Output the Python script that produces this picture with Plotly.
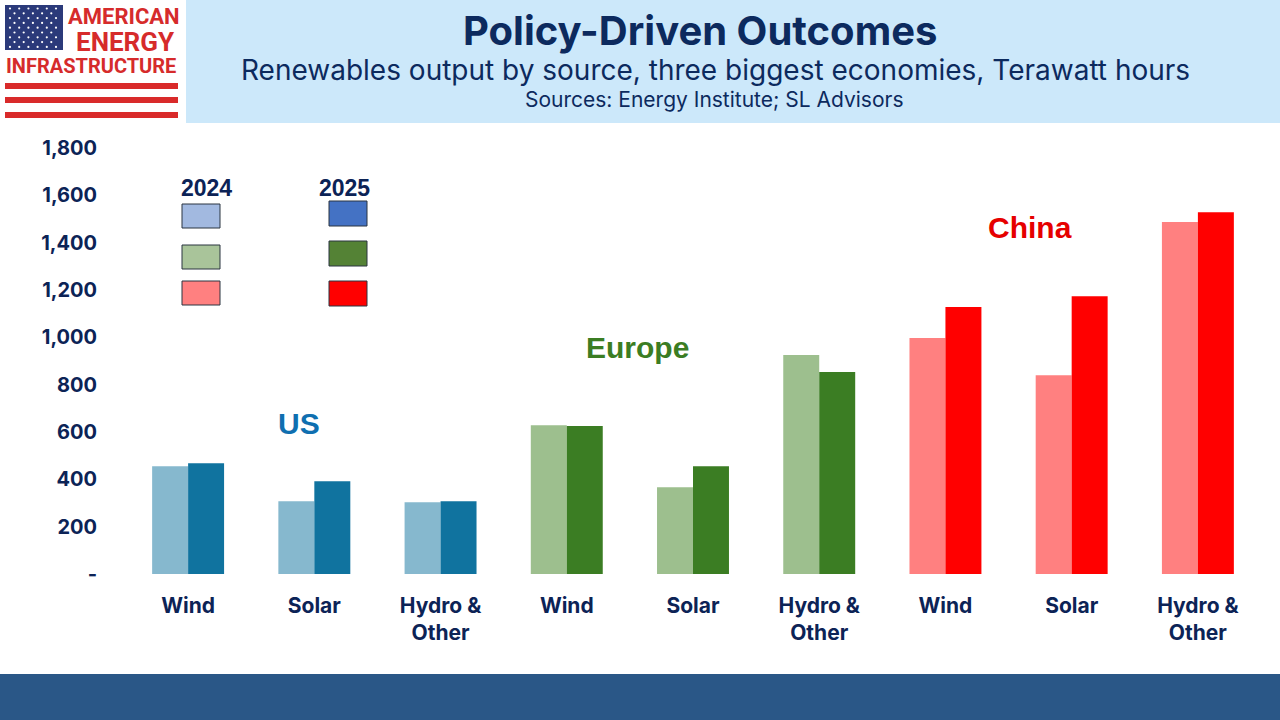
import plotly.graph_objects as go

# ---- data ----
regions = ["US", "US", "US", "Europe", "Europe", "Europe", "China", "China", "China"]
sources = ["Wind", "Solar", "Hydro &<br>Other", "Wind", "Solar", "Hydro &<br>Other",
           "Wind", "Solar", "Hydro &<br>Other"]
twh_2024 = [455, 307, 303, 629, 367, 925, 997, 840, 1487]
twh_2025 = [468, 392, 307, 625, 455, 853, 1128, 1174, 1529]
colors_2024 = ["#86B8CE"] * 3 + ["#9DBF8E"] * 3 + ["#FF8080"] * 3
colors_2025 = ["#10739F"] * 3 + ["#3B7D23"] * 3 + ["#FF0000"] * 3
y_ticks = [0, 200, 400, 600, 800, 1000, 1200, 1400, 1600, 1800]
y_ticktext = ["-", "200", "400", "600", "800", "1,000", "1,200", "1,400", "1,600", "1,800"]

# ---- layout geometry (pixels) ----
W, H = 1280, 720
L, R, T, B = 125, 1261, 148, 574
PW, PH = R - L, B - T


def X(px):
    return (px - L) / PW


def Y(py):
    return (B - py) / PH


NAVY = "#0C2356"
xs = list(range(len(sources)))

fig = go.Figure()
fig.add_trace(go.Bar(x=xs, y=twh_2024, name="2024", marker=dict(color=colors_2024, line_width=0)))
fig.add_trace(go.Bar(x=xs, y=twh_2025, name="2025", marker=dict(color=colors_2025, line_width=0)))

shapes = []
annotations = []

# header band
shapes.append(dict(type="rect", xref="paper", yref="paper", x0=X(186), x1=X(1280), y0=Y(123), y1=Y(0),
                   fillcolor="#CCE8FA", line_width=0, layer="below"))
# footer band
shapes.append(dict(type="rect", xref="paper", yref="paper", x0=X(0), x1=X(1280), y0=Y(720), y1=Y(674),
                   fillcolor="#2A5787", line_width=0, layer="below"))

# logo: canton
shapes.append(dict(type="rect", xref="paper", yref="paper", x0=X(5), x1=X(63), y0=Y(50), y1=Y(5),
                   fillcolor="#2B3A7A", line_width=0))
for r in range(9):
    n = 6 if r % 2 == 0 else 5
    off = 0 if r % 2 == 0 else 4.5
    for c in range(n):
        cx = 10 + off + c * 9.2
        cy = 8.5 + r * 4.8
        shapes.append(dict(type="circle", xref="paper", yref="paper",
                           x0=X(cx - 1.1), x1=X(cx + 1.1), y0=Y(cy + 1.1), y1=Y(cy - 1.1),
                           fillcolor="white", line_width=0))
# logo stripes
for y0, y1 in [(83, 89), (97, 103), (112, 118)]:
    shapes.append(dict(type="rect", xref="paper", yref="paper", x0=X(5), x1=X(178), y0=Y(y1), y1=Y(y0),
                       fillcolor="#D92A2A", line_width=0))
LOGO_RED = "#D62B2B"
annotations += [
    dict(text="<b>AMERICAN</b>", x=X(124), y=Y(17), xanchor="center", yanchor="middle",
         font=dict(family="Roboto", size=22, color=LOGO_RED)),
    dict(text="<b>ENERGY</b>", x=X(125), y=Y(42), xanchor="center", yanchor="middle",
         font=dict(family="Roboto", size=26, color=LOGO_RED)),
    dict(text="<b>INFRASTRUCTURE</b>", x=X(91), y=Y(66), xanchor="center", yanchor="middle",
         font=dict(family="Roboto", size=20, color=LOGO_RED)),
]

# titles
annotations += [
    dict(text="<b>Policy-Driven Outcomes</b>", x=X(700), y=Y(30), xanchor="center", yanchor="middle",
         font=dict(family="Inter", size=40, color="#0C2A5E")),
    dict(text="Renewables output by source, three biggest economies, Terawatt hours", x=X(715), y=Y(70),
         xanchor="center", yanchor="middle", font=dict(family="Inter", size=28, color="#0C2A5E")),
    dict(text="Sources: Energy Institute; SL Advisors", x=X(714), y=Y(100), xanchor="center",
         yanchor="middle", font=dict(family="Inter", size=21, color="#0C2A5E")),
]

# legend
legend_2024 = ["#A2B9E0", "#A9C49A", "#FF8080"]
legend_2025 = ["#4472C4", "#548235", "#FF0000"]
for (y0, y1), c in zip([(204, 228), (245, 269), (281, 305)], legend_2024):
    shapes.append(dict(type="rect", xref="paper", yref="paper", x0=X(182), x1=X(220), y0=Y(y1), y1=Y(y0),
                       fillcolor=c, line=dict(color="#2B3440", width=1)))
for (y0, y1), c in zip([(201, 226), (241, 266), (281, 306)], legend_2025):
    shapes.append(dict(type="rect", xref="paper", yref="paper", x0=X(329), x1=X(367), y0=Y(y1), y1=Y(y0),
                       fillcolor=c, line=dict(color="#2B3440", width=1)))
annotations += [
    dict(text="<b>2024</b>", x=X(206), y=Y(188), xanchor="center", yanchor="middle",
         font=dict(family="Liberation Sans", size=23, color=NAVY)),
    dict(text="<b>2025</b>", x=X(344), y=Y(188), xanchor="center", yanchor="middle",
         font=dict(family="Liberation Sans", size=23, color=NAVY)),
]

# region labels
annotations += [
    dict(text="<b>US</b>", x=X(299), y=Y(423), xanchor="center", yanchor="middle",
         font=dict(family="Liberation Sans", size=30, color="#0F6FB0")),
    dict(text="<b>Europe</b>", x=X(637), y=Y(347), xanchor="center", yanchor="middle",
         font=dict(family="Liberation Sans", size=30, color="#3B7D23")),
    dict(text="<b>China</b>", x=X(1030), y=Y(227), xanchor="center", yanchor="middle",
         font=dict(family="Liberation Sans", size=30, color="#E60000")),
]
for a in annotations:
    a.update(xref="paper", yref="paper", showarrow=False)

fig.update_layout(
    width=W, height=H,
    margin=dict(l=L, r=W - R, t=T, b=H - B, pad=0),
    paper_bgcolor="white", plot_bgcolor="white",
    barmode="group", bargap=0.43, bargroupgap=0,
    showlegend=False,
    shapes=shapes, annotations=annotations,
    xaxis=dict(tickmode="array", tickvals=xs, ticktext=sources, range=[-0.5, 8.5],
               showgrid=False, zeroline=False, showline=False, ticks="",
               tickfont=dict(family="Inter", size=21, color=NAVY, weight="bold"),
               ticklabelstandoff=17),
    yaxis=dict(tickmode="array", tickvals=y_ticks, ticktext=y_ticktext, range=[0, 1800],
               showgrid=False, zeroline=False, showline=False, ticks="",
               tickfont=dict(family="Inter", size=20, color=NAVY, weight="bold"),
               ticklabelstandoff=27),
)

fig.write_html("out.html", config={"displayModeBar": False},
               post_script="document.body.style.margin='0';")
